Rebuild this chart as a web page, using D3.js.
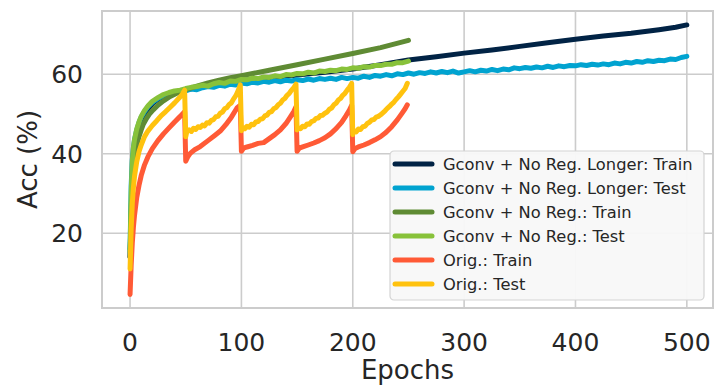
<!DOCTYPE html>
<html>
<head>
<meta charset="utf-8">
<script src="https://cdn.jsdelivr.net/npm/d3@7"></script>
<style>
  body { margin: 0; background: #fff; }
  text { font-family: "DejaVu Sans", sans-serif; fill: #262626; }
</style>
</head>
<body>
<div id="chart"></div>
<script>
// ---- data (epoch, accuracy %) ----
const xTicks = [0, 100, 200, 300, 400, 500];
const yTicks = [20, 40, 60];

// Gconv + No Reg. Longer: Train
const longTrainEpochs = [0,1,2,3,4,6,8,10,13,16,20,25,30,40,50,60,75,100,125,150,175,200,225,250,275,300,325,350,375,400,425,450,475,490,500];
const longTrainAcc = [14,26,33,37.5,40.5,44,46.3,48,49.8,51.2,52.6,53.7,54.5,55.5,56.1,56.6,57.3,58.4,59.0,59.8,60.5,61.3,62.4,63.6,64.4,65.3,66.1,67.0,67.9,68.8,69.6,70.3,71.2,71.8,72.4];

// Gconv + No Reg. Longer: Test
const longTestEpochs = [0,1,2,3,4,6,8,10,13,16,20,25,30,35,40,45,50,55,60,65,70,75,80,85,90,95,100,105,110,115,120,125,130,135,140,145,150,155,160,165,170,175,180,185,190,195,200,205,210,215,220,225,230,235,240,245,250,255,260,265,270,275,280,285,290,295,300,305,310,315,320,325,330,335,340,345,350,355,360,365,370,375,380,385,390,395,400,405,410,415,420,425,430,435,440,445,450,455,460,465,470,475,480,485,490,495,500];
const longTestAcc = [16,32,38.5,41.5,43.5,46,47.8,49.2,50.6,51.8,52.9,53.9,54.6,55.1,55.5,55.6,55.8,56.3,56.1,56.6,56.9,56.7,57.2,57.0,57.5,57.3,57.8,57.6,58.0,57.8,58.2,58.0,58.4,58.1,58.5,58.3,58.6,58.4,58.8,58.5,58.9,58.7,59.0,58.7,59.2,58.9,59.2,59.0,59.5,59.2,59.7,59.5,59.9,59.6,60.1,59.9,60.3,60.0,60.4,60.2,60.6,60.3,60.7,60.4,60.8,60.3,60.6,60.9,60.6,61.0,60.8,61.2,60.9,61.3,61.1,61.6,61.4,61.7,61.5,61.8,61.6,62.0,61.7,62.1,61.9,62.2,62.1,62.4,62.2,62.5,62.3,62.6,62.4,62.8,62.6,63.0,62.8,63.2,63.0,63.4,63.2,63.5,63.4,63.8,63.7,64.2,64.5];

// Gconv + No Reg.: Train
const gconvTrainEpochs = [0,1,2,3,4,6,8,10,12,15,18,21,25,30,36,42,50,60,70,80,90,100,125,150,175,200,225,250];
const gconvTrainAcc = [14,24,31,35.5,38.5,42,44.3,46,47.5,49,50.2,51.1,52.2,53.3,54.4,55.2,56.1,57.0,57.8,58.5,59.1,59.6,61.0,62.4,63.8,65.2,66.7,68.5];

// Gconv + No Reg.: Test
const gconvTestEpochs = [0,1,2,3,4,6,8,10,13,16,20,25,30,35,40,45,50,55,60,65,70,75,80,85,90,95,100,105,110,115,120,125,130,135,140,145,150,155,160,165,170,175,180,185,190,195,200,205,210,215,220,225,230,235,240,245,250];
const gconvTestAcc = [15.2,30,38,41.5,43.6,46.2,48,49.4,50.9,52,53.2,54.1,54.9,55.4,55.8,56.0,56.4,56.7,56.9,57.2,57.0,57.6,57.9,57.7,58.3,58.2,58.7,58.6,59.0,58.9,59.3,59.2,59.6,59.4,59.9,59.8,60.2,60.1,60.5,60.3,60.8,60.7,61.0,60.9,61.3,61.2,61.6,61.5,61.9,61.8,62.2,62.2,62.5,62.5,62.9,62.9,63.3];

// Orig.: Train
const origTrainEpochs = [0,1,2,3,4,6,8,10,13,16,20,25,30,35,40,45,49,
  50,52,54,58,63,70,76,81,86,91,96,99,
  100,102,105,110,115,120,125,130,135,140,144,147,149,
  150,152,155,160,165,170,175,180,185,190,194,197,199,
  200,202,205,210,215,220,225,230,235,240,244,247,249];
const origTrainAcc = [4.6,12,17.5,21.5,24.5,29,32,34.5,37.2,39.2,41.3,43.3,45,46.5,48,49.4,50.6,
  38.1,39.3,40.1,41.0,41.8,43.3,44.6,45.7,47.3,49.2,51.5,52.2,
  40.6,41.4,41.7,42.1,42.6,42.8,43.8,44.8,46.0,47.6,49.3,50.6,51.8,
  40.6,41.4,41.7,42.2,42.7,43.3,44.0,45.0,46.3,47.9,49.6,51.0,52.2,
  40.5,41.3,41.7,42.2,42.8,43.5,44.3,45.4,46.8,48.5,50.1,51.3,52.3];

// Orig.: Test
const origTestEpochs = [0,1,2,3,4,6,8,10,13,16,20,24,28,32,36,40,44,47,49,
  50,51,53,55,57,59,61,63,65,67,69,71,73,75,77,79,81,83,85,87,89,91,93,95,97,99,
  100,101,103,105,107,109,111,113,115,117,119,121,123,125,127,129,131,133,135,137,139,141,143,145,147,149,
  150,151,153,155,157,159,161,163,165,167,169,171,173,175,177,179,181,183,185,187,189,191,193,195,197,199,
  200,201,203,205,207,209,211,213,215,217,219,221,223,225,227,229,231,233,235,237,239,241,243,245,247,249];
const origTestAcc = [11,21,27.5,31.5,34.3,38,40.5,42.2,44.3,45.7,47.1,48.3,49.6,50.6,51.7,52.8,54.0,55.0,56.0,
  44.3,45.6,46.0,45.6,46.4,46.1,46.8,46.6,47.2,47.0,47.8,47.7,48.4,48.6,49.3,49.4,50.2,50.5,51.3,51.6,52.4,52.8,53.8,54.6,55.8,57.3,
  45.8,46.6,46.3,46.9,46.7,47.4,47.3,48.0,48.1,48.7,48.8,49.5,49.7,50.4,50.6,51.3,51.6,52.3,52.7,53.5,53.9,54.7,55.2,56.0,56.6,57.5,
  46.0,46.5,46.3,46.9,46.8,47.5,47.4,48.1,48.3,48.9,49.0,49.6,49.7,50.2,50.5,51.2,51.5,52.3,52.7,53.5,53.9,54.7,55.2,56.0,56.7,57.7,
  44.8,45.8,45.5,46.2,46.1,46.8,46.9,47.6,47.9,48.5,48.6,49.2,49.4,49.8,50.3,50.8,51.4,51.9,52.5,53.0,53.7,54.3,55.0,55.7,56.4,57.7];

const seriesNames = ["Gconv + No Reg. Longer: Train", "Gconv + No Reg. Longer: Test",
  "Gconv + No Reg.: Train", "Gconv + No Reg.: Test", "Orig.: Train", "Orig.: Test"];
const seriesColors = ["#012345", "#01a3d0", "#5f8b34", "#88c23a", "#ff5a36", "#ffc20e"];

// pair up epochs and values for each line
const seriesData = [
  [longTrainEpochs, longTrainAcc],
  [longTestEpochs, longTestAcc],
  [gconvTrainEpochs, gconvTrainAcc],
  [gconvTestEpochs, gconvTestAcc],
  [origTrainEpochs, origTrainAcc],
  [origTestEpochs, origTestAcc]
].map(function(p) { return p[0].map(function(e, i) { return { epoch: e, acc: p[1][i] }; }); });

// ---- layout ----
const W = 714, H = 385;
const margin = { top: 11, right: 1, bottom: 77, left: 102 };
const width = W - margin.left - margin.right,
      height = H - margin.top - margin.bottom;

const svg = d3.select("#chart").append("svg")
    .attr("width", W)
    .attr("height", H);

const g = svg.append("g")
    .attr("transform", "translate(" + margin.left + "," + margin.top + ")");

const x = d3.scaleLinear().domain([-25.2, 523.5]).range([0, width]);
const y = d3.scaleLinear().domain([1.2, 75.9]).range([height, 0]);

// grid lines
g.selectAll(".vgrid").data(xTicks).enter().append("line")
    .attr("x1", d => x(d)).attr("x2", d => x(d))
    .attr("y1", 0).attr("y2", height)
    .attr("stroke", "#cccccc").attr("stroke-width", 1.6);
g.selectAll(".hgrid").data(yTicks).enter().append("line")
    .attr("x1", 0).attr("x2", width)
    .attr("y1", d => y(d)).attr("y2", d => y(d))
    .attr("stroke", "#cccccc").attr("stroke-width", 1.6);

// the lines
const line = d3.line()
    .x(d => x(d.epoch))
    .y(d => y(d.acc));

seriesData.forEach(function(data, i) {
  g.append("path")
      .datum(data)
      .attr("fill", "none")
      .attr("stroke", seriesColors[i])
      .attr("stroke-width", 5)
      .attr("stroke-linecap", "round")
      .attr("stroke-linejoin", "round")
      .attr("d", line);
});

// frame
g.append("rect")
    .attr("x", 0).attr("y", 0)
    .attr("width", width).attr("height", height)
    .attr("fill", "none")
    .attr("stroke", "#cccccc").attr("stroke-width", 2);

// tick labels
g.selectAll(".xtick").data(xTicks).enter().append("text")
    .attr("x", d => x(d))
    .attr("y", height + 43)
    .attr("text-anchor", "middle")
    .style("font-size", "25px")
    .text(d => d);
g.selectAll(".ytick").data(yTicks).enter().append("text")
    .attr("x", -19)
    .attr("y", d => y(d))
    .attr("dy", "0.36em")
    .attr("text-anchor", "end")
    .style("font-size", "25px")
    .text(d => d);

// axis labels
svg.append("text")
    .attr("x", margin.left + width / 2)
    .attr("y", 379)
    .attr("text-anchor", "middle")
    .style("font-size", "26px")
    .text("Epochs");
svg.append("text")
    .attr("transform", "translate(37," + (margin.top + height / 2) + ") rotate(-90)")
    .attr("text-anchor", "middle")
    .style("font-size", "26px")
    .text("Acc (%)");

// legend
const legend = svg.append("g").attr("transform", "translate(390,151)");
legend.append("rect")
    .attr("width", 314).attr("height", 149)
    .attr("rx", 4)
    .attr("fill", "#f8f8f8").attr("fill-opacity", 0.95)
    .attr("stroke", "#d4d4d4").attr("stroke-width", 1.2);

const item = legend.selectAll(".item").data(seriesNames).enter().append("g")
    .attr("transform", (d, i) => "translate(0," + (13 + i * 24) + ")");
item.append("line")
    .attr("x1", 5).attr("x2", 42)
    .attr("stroke", (d, i) => seriesColors[i])
    .attr("stroke-width", 5)
    .attr("stroke-linecap", "round");
item.append("text")
    .attr("x", 53)
    .attr("dy", "0.36em")
    .style("font-size", "16.3px")
    .text(d => d);
</script>
</body>
</html>
